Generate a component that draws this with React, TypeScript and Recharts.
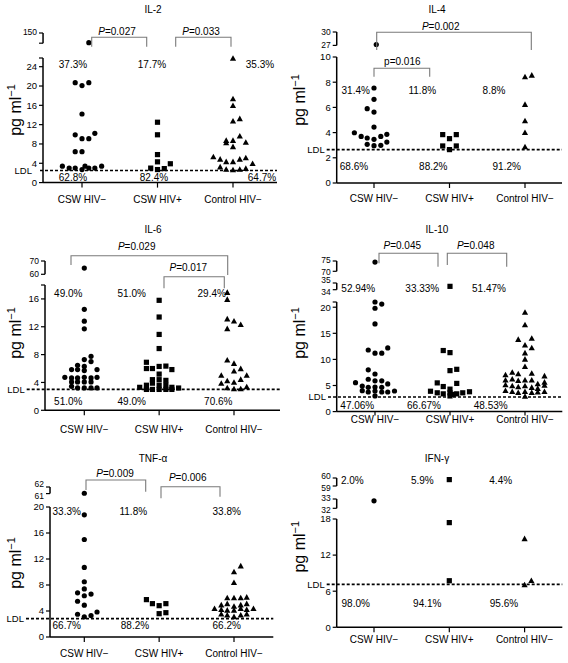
import React from 'react';
import { ScatterChart, Scatter, XAxis, YAxis, ReferenceLine } from 'recharts';

const FONT = '"Liberation Sans", Arial, Helvetica, sans-serif';
const GROUPS = ['CSW HIV\u2212', 'CSW HIV+', 'Control HIV\u2212'];
const PANEL_W = 284;

// [x offset within group (category units), value in pg/ml]
const IL2_CSW_NEG = [[0.09, 140.5], [-0.09, 20.7], [0, 20.1], [0.09, 20.7], [0, 14.2], [-0.09, 9.9], [0, 9.1], [0.09, 9.1], [0.17, 10.2], [-0.09, 6.4], [0, 6.4], [-0.26, 3.4], [-0.17, 3.0], [-0.09, 3.0], [0, 2.7], [0.04, 3.4], [0.09, 3.0], [0.17, 3.0], [0.26, 3.4]];
const IL2_CSW_POS = [[0, 12.5], [0, 9.9], [0, 5.8], [0, 4.3], [0, 2.7], [-0.09, 3.0], [0.09, 2.9], [0.17, 3.9]];
const IL2_CTRL = [[0, 25.7], [0, 17.3], [0, 15.9], [0.09, 13.2], [0, 12.7], [-0.09, 8.7], [-0.09, 8.2], [0, 8.7], [0.09, 9.6], [0, 7.4], [0.17, 8.3], [-0.26, 5.3], [-0.17, 4.8], [-0.09, 4.3], [0, 4.3], [0.09, 4.8], [0.17, 5.1], [0.26, 3.9], [-0.17, 3.2], [-0.09, 2.7], [0, 2.6], [0.09, 2.7], [0.17, 2.9]];

const IL4_CSW_NEG = [[0.03, 27.2], [0, 7.54], [0, 6.64], [-0.09, 5.9], [0, 5.63], [0, 4.44], [-0.26, 3.99], [-0.17, 3.7], [-0.09, 3.57], [0, 3.47], [0.09, 3.7], [0.17, 3.86], [0.17, 3.25], [-0.09, 3.07], [0, 2.96], [0.09, 2.99]];
const IL4_CSW_POS = [[-0.09, 3.84], [0, 3.52], [0.09, 3.84], [-0.09, 2.94], [0, 2.65], [0.09, 2.94]];
const IL4_CTRL = [[0, 8.41], [0.09, 8.54], [0, 6.22], [0, 4.92], [0, 3.99], [0, 2.86]];

const IL6_CSW_NEG = [[0, 64.7], [0, 14.5], [0, 12.8], [0, 11.7], [0.09, 7.76], [0, 7.28], [0.09, 7.0], [-0.09, 6.47], [0, 6.3], [-0.17, 5.85], [-0.09, 5.85], [0, 5.7], [0.17, 5.85], [-0.26, 4.74], [-0.17, 4.65], [-0.09, 4.65], [0, 4.74], [0.09, 4.65], [0.17, 4.74], [-0.17, 4.08], [-0.09, 4.08], [0, 4.08], [0.09, 4.08], [-0.17, 3.45], [-0.09, 3.22], [0, 3.22], [0.09, 3.22], [0.17, 3.22]];
const IL6_CSW_POS = [[0, 15.8], [0, 13.4], [0, 10.9], [0, 8.87], [-0.17, 6.9], [-0.17, 6.0], [-0.09, 6.0], [0, 6.3], [0.09, 6.35], [0.17, 5.85], [0, 5.2], [-0.09, 4.4], [0, 4.4], [0.09, 4.3], [-0.26, 3.3], [-0.17, 3.6], [-0.09, 3.9], [0, 3.6], [0.09, 3.6], [0.17, 3.3], [0.26, 3.2], [-0.17, 3.0], [-0.09, 3.0], [0, 3.0], [0.09, 3.0], [0.17, 3.0]];
const IL6_CTRL = [[-0.09, 16.9], [-0.09, 15.9], [-0.09, 13.1], [0, 12.8], [0.09, 12.3], [-0.09, 11.7], [-0.09, 7.2], [0, 6.7], [0.09, 5.95], [0, 5.6], [0.17, 5.0], [-0.17, 5.0], [-0.09, 4.2], [0, 4.0], [0.09, 4.4], [-0.17, 3.85], [-0.09, 3.2], [0, 3.05], [0.09, 3.05], [0.17, 3.35]];

const IL10_CSW_NEG = [[0, 74.5], [0, 21.0], [0, 19.8], [0.09, 20.6], [0, 16.8], [-0.09, 11.8], [0, 11.2], [0.09, 11.2], [0.17, 12.2], [-0.09, 8.0], [0, 7.2], [-0.09, 6.2], [0, 5.9], [0.09, 5.9], [-0.26, 5.55], [0.17, 5.3], [-0.17, 4.9], [-0.09, 4.65], [0, 4.7], [0.09, 4.65], [-0.17, 4.0], [-0.09, 3.75], [0, 3.95], [0.09, 3.75], [0.17, 3.75], [0.26, 3.95], [0, 3.0]];
const IL10_CSW_POS = [[0, 34.5], [-0.09, 11.7], [0, 11.3], [0, 7.85], [0.09, 8.1], [-0.17, 5.5], [0.09, 5.4], [-0.09, 4.8], [0, 4.3], [-0.26, 3.9], [-0.17, 3.6], [-0.09, 3.4], [0, 3.6], [0.04, 3.3], [0.09, 3.4], [0.17, 3.6], [0.26, 3.8], [0, 3.0]];
const IL10_CTRL = [[0, 19.0], [0, 16.6], [-0.09, 13.8], [0.09, 14.0], [0, 12.7], [0.09, 12.2], [0, 11.2], [0, 10.0], [0, 8.6], [-0.26, 7.0], [-0.17, 7.5], [-0.09, 7.2], [0.09, 7.3], [0.26, 6.8], [-0.26, 6.0], [-0.17, 6.2], [-0.09, 5.9], [0, 6.0], [0.09, 6.0], [0.17, 5.3], [0.26, 5.6], [-0.26, 5.1], [-0.17, 4.9], [-0.09, 4.7], [0, 4.9], [0.09, 4.6], [0.17, 4.4], [0.26, 5.0], [-0.26, 4.0], [-0.17, 3.8], [-0.09, 3.6], [0, 3.8], [0.09, 3.6], [0.17, 3.7], [0.26, 3.8], [0, 2.9]];

const TNF_CSW_NEG = [[0, 61.05], [0, 18.8], [0, 15.0], [0, 10.7], [0, 8.5], [0, 7.4], [-0.09, 6.8], [0, 6.35], [0.09, 6.6], [-0.09, 5.5], [0, 4.9], [-0.09, 3.5], [0, 3.1], [0.09, 3.3], [0.17, 3.85]];
const TNF_CSW_POS = [[-0.17, 5.75], [-0.09, 5.13], [0, 4.82], [0.09, 5.13], [0, 3.59], [0.09, 3.74]];
const TNF_CTRL = [[0.09, 10.9], [0, 10.0], [0, 8.35], [-0.09, 6.0], [0, 6.0], [0.09, 6.0], [0.17, 6.1], [-0.17, 4.9], [-0.09, 5.1], [0, 4.7], [0.09, 4.9], [0.17, 5.1], [-0.26, 4.35], [-0.17, 4.2], [-0.09, 4.1], [0, 4.1], [0.09, 4.35], [0.17, 4.2], [0.26, 4.35], [-0.17, 3.5], [-0.09, 3.35], [0, 3.1], [0.09, 3.35], [0.17, 3.5]];

const IFN_CSW_NEG = [[0, 32.8]];
const IFN_CSW_POS = [[0, 59.8], [0, 17.4], [0, 7.74]];
const IFN_CTRL = [[0, 14.7], [0, 7.03], [0.09, 7.74]];

// percentages: above LDL (3), below LDL (3)
const IL2_PCT = ['37.3%', '17.7%', '35.3%', '62.8%', '82.4%', '64.7%'];
const IL4_PCT = ['31.4%', '11.8%', '8.8%', '68.6%', '88.2%', '91.2%'];
const IL6_PCT = ['49.0%', '51.0%', '29.4%', '51.0%', '49.0%', '70.6%'];
const IL10_PCT = ['52.94%', '33.33%', '51.47%', '47.06%', '66.67%', '48.53%'];
const TNF_PCT = ['33.3%', '11.8%', '33.8%', '66.7%', '88.2%', '66.2%'];
const IFN_PCT = ['2.0%', '5.9%', '4.4%', '98.0%', '94.1%', '95.6%'];

const IL2_P = ['0.027', '0.033'];
const IL4_P = ['0.002', '0.016'];
const IL6_P = ['0.029', '0.017'];
const IL10_P = ['0.045', '0.048'];
const TNF_P = ['0.009', '0.006'];

const Dot = (p: any) => <circle cx={p.cx} cy={p.cy} r={2.6} fill="#000" />;
const Sq = (p: any) => <rect x={p.cx - 2.6} y={p.cy - 2.6} width={5.2} height={5.2} fill="#000" />;
const Tri = (p: any) => (
  <polygon points={`${p.cx},${p.cy - 3.3} ${p.cx + 3.1},${p.cy + 2.3} ${p.cx - 3.1},${p.cy + 2.3}`} fill="#000" />
);

const PANELS: any[] = [
  {
    title: 'IL-2', ox: 0, oy: 0, titleY: 9, axisX: 43, axisRight: 277, cat1: 82, step: 75.5,
    main: { domain: [0, 25.8], yTop: 58.4, yBottom: 183, ticks: [0, 4, 8, 12, 16, 20, 24, 25.8], blank: [25.8] },
    uppers: [{ domain: [140, 150], yTop: 33.3, yBottom: 43.5, ticks: [140, 150], blank: [140] }],
    ldl: 2.5, ldlStart: 40, ldlDy: 0.5, ldlOff: 8, tickMargin: 8, ylabel: [15, 110],
    series: [IL2_CSW_NEG, IL2_CSW_POS, IL2_CTRL],
    pct: IL2_PCT, pctY: [64, 177], pctX: [73, 152, 260, 73, 154, 262],
    p: IL2_P,
    brackets: [
      { x1: 91.7, x2: 146.7, y: 37.3, d1: 46.7, d2: 46.7, tx: 117, ty: 31, it: true },
      { x1: 175.7, x2: 231, y: 37.3, d1: 46.7, d2: 46.7, tx: 201, ty: 31, it: true },
    ],
  },
  {
    title: 'IL-4', ox: 284, oy: 0, titleY: 9, axisX: 52.7, axisRight: 278, cat1: 90, step: 75.5,
    main: { domain: [0, 10], yTop: 56.7, yBottom: 182.7, ticks: [0, 2, 4, 6, 8, 10], blank: [] },
    uppers: [{ domain: [27, 30], yTop: 32.3, yBottom: 45.7, ticks: [27, 30], blank: [] }],
    ldl: 2.65, ldlStart: 42.7, ldlDy: 0, ldlOff: 2, tickMargin: 7, ylabel: [15, 100],
    series: [IL4_CSW_NEG, IL4_CSW_POS, IL4_CTRL],
    pct: IL4_PCT, pctY: [90.7, 166.7], pctX: [71.7, 138.3, 210, 70, 149.3, 222.7],
    p: IL4_P,
    brackets: [
      { x1: 92.7, x2: 247.3, y: 32.3, d1: 50, d2: 50, tx: 156.7, ty: 26, it: true },
      { x1: 90, x2: 145.7, y: 68.3, d1: 76.7, d2: 76.7, tx: 118.3, ty: 61, it: false },
    ],
  },
  {
    title: 'IL-6', ox: 0, oy: 220, titleY: 9, axisX: 45, axisRight: 280, cat1: 84.3, step: 74.85,
    main: { domain: [0, 18], yTop: 65.4, yBottom: 190.7, ticks: [0, 4, 8, 12, 16, 18], blank: [18] },
    uppers: [{ domain: [60, 70], yTop: 40.7, yBottom: 54, ticks: [60, 70], blank: [] }],
    ldl: 3.0, ldlStart: 26.7, ldlDy: 0, ldlOff: 2, tickMargin: 10.5, ylabel: [15, 113],
    series: [IL6_CSW_NEG, IL6_CSW_POS, IL6_CTRL],
    pct: IL6_PCT, pctY: [73.3, 181.7], pctX: [68.3, 131.7, 211.7, 68.3, 131.7, 218.3],
    p: IL6_P,
    brackets: [
      { x1: 71, x2: 227.7, y: 35.7, d1: 45, d2: 55, tx: 136.7, ty: 26.7, it: true },
      { x1: 164, x2: 224.3, y: 56.7, d1: 68.3, d2: 68.3, tx: 188.3, ty: 47.7, it: true },
    ],
  },
  {
    title: 'IL-10', ox: 284, oy: 220, titleY: 9, axisX: 52.7, axisRight: 278.3, cat1: 91, step: 75,
    main: { domain: [0, 21], yTop: 82.1, yBottom: 191.7, ticks: [0, 5, 10, 15, 20, 21], blank: [21] },
    uppers: [
      { domain: [70, 75], yTop: 40.7, yBottom: 51, ticks: [70, 75], blank: [] },
      { domain: [34, 35], yTop: 63.3, yBottom: 70, ticks: [34, 35], blank: [] },
    ],
    ldl: 2.8, ldlStart: 44, ldlDy: 0, ldlOff: 2, tickMargin: 0, ylabel: [15, 113],
    series: [IL10_CSW_NEG, IL10_CSW_POS, IL10_CTRL],
    pct: IL10_PCT, pctY: [68.3, 185], pctX: [74.3, 138.3, 205, 73.3, 140, 206.7],
    p: IL10_P,
    brackets: [
      { x1: 95, x2: 154, y: 33.3, d1: 43.3, d2: 46.7, tx: 118.3, ty: 25, it: true },
      { x1: 163.3, x2: 222.7, y: 33.3, d1: 45, d2: 46.7, tx: 191.7, ty: 25, it: true },
    ],
  },
  {
    title: 'TNF-\u03b1', ox: 0, oy: 440, titleY: 18.3, axisX: 50, axisRight: 273.3, cat1: 84.3, step: 74.85,
    main: { domain: [0, 20], yTop: 66.7, yBottom: 196.7, ticks: [0, 4, 8, 12, 16, 20], blank: [] },
    uppers: [{ domain: [61, 62], yTop: 46.7, yBottom: 53.3, ticks: [61, 62], blank: [] }],
    ldl: 2.83, ldlStart: 26, ldlDy: 0, ldlOff: 2, tickMargin: 8, ylabel: [15, 123],
    series: [TNF_CSW_NEG, TNF_CSW_POS, TNF_CTRL],
    pct: TNF_PCT, pctY: [71.7, 185.7], pctX: [66.7, 133.3, 226.7, 66.7, 135, 226.7],
    p: TNF_P,
    brackets: [
      { x1: 86, x2: 145.7, y: 40, d1: 50, d2: 51.7, tx: 115, ty: 33.3, it: true },
      { x1: 161, x2: 220, y: 46.7, d1: 58.3, d2: 56.7, tx: 187.7, ty: 37.7, it: true },
    ],
  },
  {
    title: 'IFN-\u03b3', ox: 284, oy: 440, titleY: 18.3, axisX: 52.7, axisRight: 278.3, cat1: 90, step: 75.3,
    main: { domain: [0, 18], yTop: 79, yBottom: 187.3, ticks: [0, 6, 12, 18], blank: [] },
    uppers: [
      { domain: [59, 60], yTop: 37.7, yBottom: 45.7, ticks: [59, 60], blank: [] },
      { domain: [32, 33], yTop: 59, yBottom: 68.3, ticks: [32, 33], blank: [] },
    ],
    ldl: 7.14, ldlStart: 42.7, ldlDy: 0, ldlOff: 2, tickMargin: 4, ylabel: [15, 106.7],
    series: [IFN_CSW_NEG, IFN_CSW_POS, IFN_CTRL],
    pct: IFN_PCT, pctY: [40, 163.3], pctX: [68.3, 138.3, 216.7, 71.7, 143.3, 220],
    p: [],
    brackets: [],
  },
];

const SHAPES = [Dot, Sq, Tri];

function xDomain(p: any): [number, number] {
  return [1 - (p.cat1 - p.axisX) / p.step, 1 + (p.axisRight - p.cat1) / p.step];
}

function points(arr: number[][], cat: number, lo: number, hi: number) {
  return arr.filter(([, v]) => v >= lo && v <= hi).map(([dx, v]) => ({ x: cat + dx, y: v }));
}

function Segment({ p, seg, main }: { p: any; seg: any; main: boolean }) {
  const pad = main ? 5 : 10;
  const xAxisH = main ? 30 : 0;
  const height = seg.yBottom - seg.yTop + pad * (main ? 1 : 2) + xAxisH;
  const xd = xDomain(p);
  const [lo, hi] = seg.domain;
  const span = seg.yBottom - seg.yTop;
  const fs = main ? 9.5 : 8.5;
  // on very short axis pieces push the two end labels slightly apart
  const spread = !main && span < 11 ? (11 - span) / 2 + 0.5 : 0;

  const renderYTick = (t: any) => {
    const v = t.payload.value;
    if (seg.blank.includes(v)) return <g />;
    const shift = v === hi ? -spread : v === lo ? spread : 0;
    return (
      <text x={t.x} y={t.y + shift} dy="0.355em" textAnchor="end" fontSize={fs} fill="#000" fontFamily={FONT}>
        {String(v)}
      </text>
    );
  };

  return (
    <div style={{ position: 'absolute', left: p.ox, top: p.oy + seg.yTop - pad, width: PANEL_W, height }}>
      <ScatterChart
        width={PANEL_W}
        height={height}
        margin={{ top: pad, right: PANEL_W - p.axisRight, bottom: main ? 0 : pad, left: 0 }}
      >
        <XAxis
          type="number"
          dataKey="x"
          domain={xd}
          ticks={[1, 2, 3]}
          interval={0}
          hide={!main}
          height={xAxisH}
          tickFormatter={(v: number) => GROUPS[Math.round(v) - 1]}
          axisLine={{ stroke: '#000', strokeWidth: 1.5 }}
          tickLine={{ stroke: '#000', strokeWidth: 1.2 }}
          tickSize={main && p.tickMargin === 0 ? 4 : 5}
          tickMargin={p.tickMargin}
          tick={{ fontSize: 10, fill: '#000', fontFamily: FONT }}
        />
        <YAxis
          type="number"
          dataKey="y"
          domain={seg.domain}
          ticks={seg.ticks}
          interval={0}
          width={p.axisX}
          tickSize={4}
          tickMargin={2}
          axisLine={{ stroke: '#000', strokeWidth: 1.5 }}
          tickLine={{ stroke: '#000', strokeWidth: 1.2 }}
          tick={renderYTick}
        />
        {main && (
          <ReferenceLine
            segment={[
              { x: xd[0] - (p.axisX - p.ldlStart) / p.step, y: p.ldl },
              { x: xd[1], y: p.ldl },
            ]}
            ifOverflow="visible"
            stroke="#000"
            strokeWidth={1.6}
            strokeDasharray="3 2"
            label={{ value: 'LDL', position: 'left', offset: p.ldlOff, dy: p.ldlDy, fontSize: 9.5, fill: '#000', fontFamily: FONT }}
          />
        )}
        {p.series.map((arr: number[][], i: number) => (
          <Scatter
            key={i}
            data={points(arr, i + 1, lo, hi)}
            shape={SHAPES[i]}
            isAnimationActive={false}
          />
        ))}
      </ScatterChart>
    </div>
  );
}

function Overlay() {
  return (
    <svg width={568} height={663} style={{ position: 'absolute', left: 0, top: 0, pointerEvents: 'none' }}>
      {PANELS.map((p, k) => (
        <g key={k} transform={`translate(${p.ox},${p.oy})`} fontFamily={FONT} fill="#000">
          <text x={153} y={p.titleY} dy="0.35em" textAnchor="middle" fontSize={10}>{p.title}</text>
          <text
            transform={`translate(${p.ylabel[0]},${p.ylabel[1]}) rotate(-90)`}
            dy="0.35em"
            textAnchor="middle"
            fontSize={16}
          >
            pg ml<tspan fontSize={11} dy={-6}>{'\u22121'}</tspan>
          </text>
          {p.pct.map((t: string, i: number) => (
            <text key={i} x={p.pctX[i]} y={p.pctY[i < 3 ? 0 : 1]} dy="0.35em" textAnchor="middle" fontSize={10}>{t}</text>
          ))}
          {p.brackets.map((b: any, i: number) => (
            <g key={i}>
              <polyline
                points={`${b.x1},${b.d1} ${b.x1},${b.y} ${b.x2},${b.y} ${b.x2},${b.d2}`}
                fill="none"
                stroke="#7a7a7a"
                strokeWidth={1.1}
              />
              <text x={b.tx} y={b.ty} dy="0.35em" textAnchor="middle" fontSize={10}>
                <tspan fontStyle={b.it ? 'italic' : 'normal'}>{b.it ? 'P' : 'p'}</tspan>={p.p[i]}
              </text>
            </g>
          ))}
        </g>
      ))}
    </svg>
  );
}

export default function App() {
  return (
    <div style={{ position: 'absolute', left: 0, top: 0, width: 568, height: 663, background: '#fff', fontFamily: FONT }}>
      {PANELS.map((p, k) => (
        <React.Fragment key={k}>
          {p.uppers.map((seg: any, j: number) => (
            <Segment key={j} p={p} seg={seg} main={false} />
          ))}
          <Segment p={p} seg={p.main} main />
        </React.Fragment>
      ))}
      <Overlay />
    </div>
  );
}
